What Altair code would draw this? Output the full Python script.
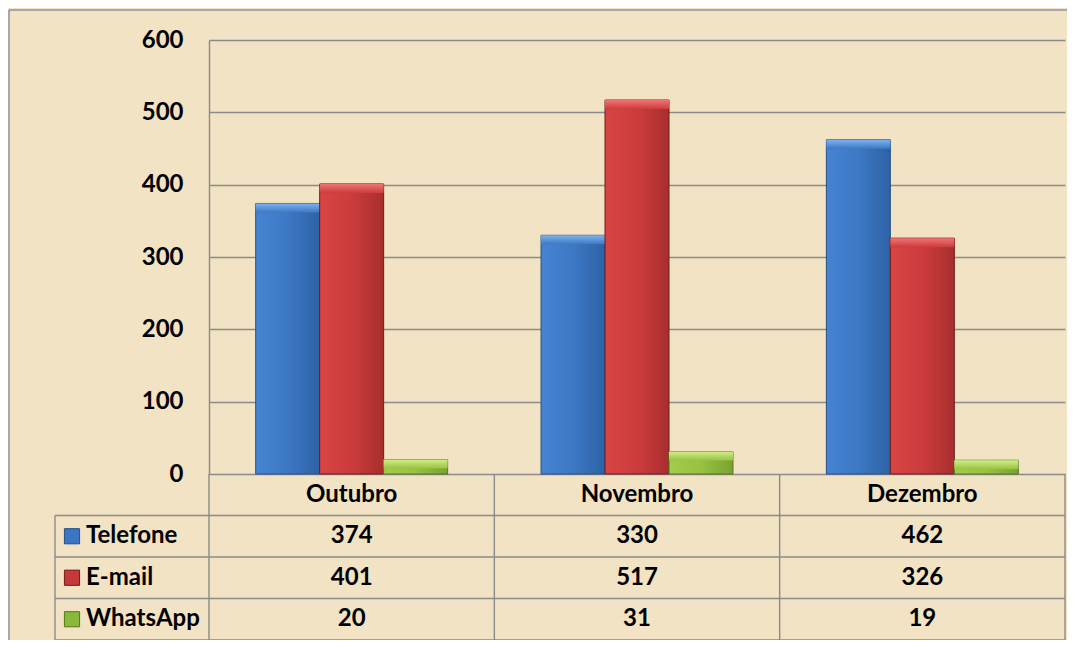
import altair as alt
import pandas as pd

months = ["Outubro", "Novembro", "Dezembro"]
series = ["Telefone", "E-mail", "WhatsApp"]
telefone = [374, 330, 462]
email = [401, 517, 326]
whatsapp = [20, 31, 19]
y_ticks = [0, 100, 200, 300, 400, 500, 600]

values = {"Telefone": telefone, "E-mail": email, "WhatsApp": whatsapp}
rows = []
for s in series:
    for m, v in zip(months, values[s]):
        rows.append({"month": m, "series": s, "value": v})
df = pd.DataFrame(rows)

row_domain = ["header"] + series
FONT = "Lato"
FS = 24
LINE = "#8b8b8b"
LW = 1.4

# style per series: (left, center, right, stroke, bevel_top, swatch)
style = {
    "Telefone": ("#4684d2", "#3c78c4", "#2e62a6", "#244f88", "#7cb2ee", "#3a76c4"),
    "E-mail": ("#d84444", "#cc3c3c", "#a82e2e", "#6e1a1a", "#f07474", "#c83838"),
    "WhatsApp": ("#a4cc4c", "#98c242", "#7aa232", "#55761c", "#d2ee88", "#8ab83a"),
}

x_enc = alt.X("month:N", sort=months, axis=None,
              scale=alt.Scale(domain=months, paddingInner=0, paddingOuter=0))
xoff = alt.XOffset("series:N", sort=series,
                   scale=alt.Scale(domain=series, paddingInner=0, paddingOuter=0.73))
y_scale = alt.Scale(domain=[0, 600], range=[434, 0], nice=False)
yax = alt.Axis(values=y_ticks, grid=True, gridColor=LINE, gridWidth=LW,
               domainColor=LINE, domainWidth=LW, ticks=False,
               labelFont=FONT, labelFontWeight="bold", labelFontSize=FS,
               labelColor="black", labelPadding=26, title=None)

base = alt.Chart(df)
bar_layers = []
for i, s in enumerate(series):
    l, c, r, st, bt, sw = style[s]
    grad = alt.Gradient(gradient="linear",
                        stops=[alt.GradientStop(color=l, offset=0),
                               alt.GradientStop(color=c, offset=0.5),
                               alt.GradientStop(color=r, offset=1)],
                        x1=0, x2=1, y1=0, y2=0)
    bar_layers.append(
        base.transform_filter(alt.datum.series == s).mark_bar(
            fill=grad, stroke=st, strokeWidth=1
        ).encode(
            x=x_enc, xOffset=xoff,
            y=alt.Y("value:Q", scale=y_scale, axis=yax),
        )
    )
    bgrad = alt.Gradient(gradient="linear",
                         stops=[alt.GradientStop(color=bt, offset=0),
                                alt.GradientStop(color=c, offset=1)],
                         x1=0, x2=0, y1=0, y2=1)
    bar_layers.append(
        base.transform_filter(alt.datum.series == s).mark_bar(
            fill=bgrad, y2Offset=9, xOffset=1.5, x2Offset=-1.5
        ).encode(
            x=x_enc, xOffset=xoff,
            y=alt.Y("value:Q", scale=y_scale, axis=yax),
            y2=alt.Y2("value:Q"),
        )
    )
bars = alt.layer(*bar_layers)

# ---------------- data table ----------------
y_row = alt.Scale(domain=row_domain, range=[434, 600], paddingInner=0, paddingOuter=0)
hdr = pd.DataFrame({"month": months, "row": ["header"] * 3})
lab = pd.DataFrame({"row": series})

hrules = alt.Chart(lab).mark_rule(color=LINE, strokeWidth=LW).encode(
    y=alt.Y("row:N", scale=y_row, axis=None, bandPosition=0),
    x=alt.value(-154), x2=alt.value(856))
hbottom = alt.Chart(lab).transform_filter(alt.datum.row == "WhatsApp").mark_rule(
    color=LINE, strokeWidth=LW).encode(
    y=alt.Y("row:N", scale=y_row, axis=None, bandPosition=1),
    x=alt.value(-154), x2=alt.value(856))
vrules = alt.Chart(hdr).mark_rule(color=LINE, strokeWidth=LW).encode(
    x=alt.X("month:N", sort=months, axis=None, bandPosition=0),
    y=alt.value(434), y2=alt.value(600))
vright = alt.Chart(hdr.iloc[:1]).mark_rule(color=LINE, strokeWidth=LW).encode(
    x=alt.value(856), y=alt.value(434), y2=alt.value(600))
vleft = alt.Chart(hdr.iloc[:1]).mark_rule(color=LINE, strokeWidth=LW).encode(
    x=alt.value(-154), y=alt.value(475.5), y2=alt.value(600))

tstyle = dict(font=FONT, fontWeight="bold", fontSize=FS, color="black", baseline="middle")
header_text = alt.Chart(hdr).mark_text(**tstyle).encode(
    x=alt.X("month:N", sort=months, axis=None),
    y=alt.Y("row:N", scale=y_row, axis=None),
    text="month:N")
value_text = alt.Chart(df).mark_text(**tstyle).encode(
    x=alt.X("month:N", sort=months, axis=None),
    y=alt.Y("series:N", scale=y_row, axis=None),
    text="value:Q")
label_text = alt.Chart(lab).mark_text(align="left", **tstyle).encode(
    x=alt.value(-123),
    y=alt.Y("row:N", scale=y_row, axis=None),
    text="row:N")
swatch = alt.Chart(lab).mark_square(size=230, opacity=1, strokeWidth=1).encode(
    x=alt.value(-137),
    y=alt.Y("row:N", scale=y_row, axis=None),
    fill=alt.Fill("row:N", scale=alt.Scale(domain=series,
                                           range=[style[s][5] for s in series]), legend=None),
    stroke=alt.Stroke("row:N", scale=alt.Scale(domain=series,
                                               range=[style[s][3] for s in series]), legend=None),
)
table = alt.layer(hrules, hbottom, vrules, vright, vleft, header_text, value_text,
                  label_text, swatch)

one = pd.DataFrame({"a": [0]})
border_top = alt.Chart(one).mark_rule(color="#8a93a3", strokeWidth=1.5).encode(
    x=alt.value(-200), x2=alt.value(3000), y=alt.value(-30))
border_left = alt.Chart(one).mark_rule(color="#8a93a3", strokeWidth=1.5).encode(
    x=alt.value(-200), y=alt.value(-30), y2=alt.value(3000))

chart = alt.layer(border_top, border_left, bars, table).resolve_scale(y="independent").properties(
    width=856, height=600,
    padding={"left": 201, "top": 32, "right": 2, "bottom": 0},
    autosize=alt.AutoSizeParams(type="none"),
    background="#f1e3c3",
).configure_view(strokeWidth=0)

chart.save("out.html", embed_options={"renderer": "svg", "actions": False})
